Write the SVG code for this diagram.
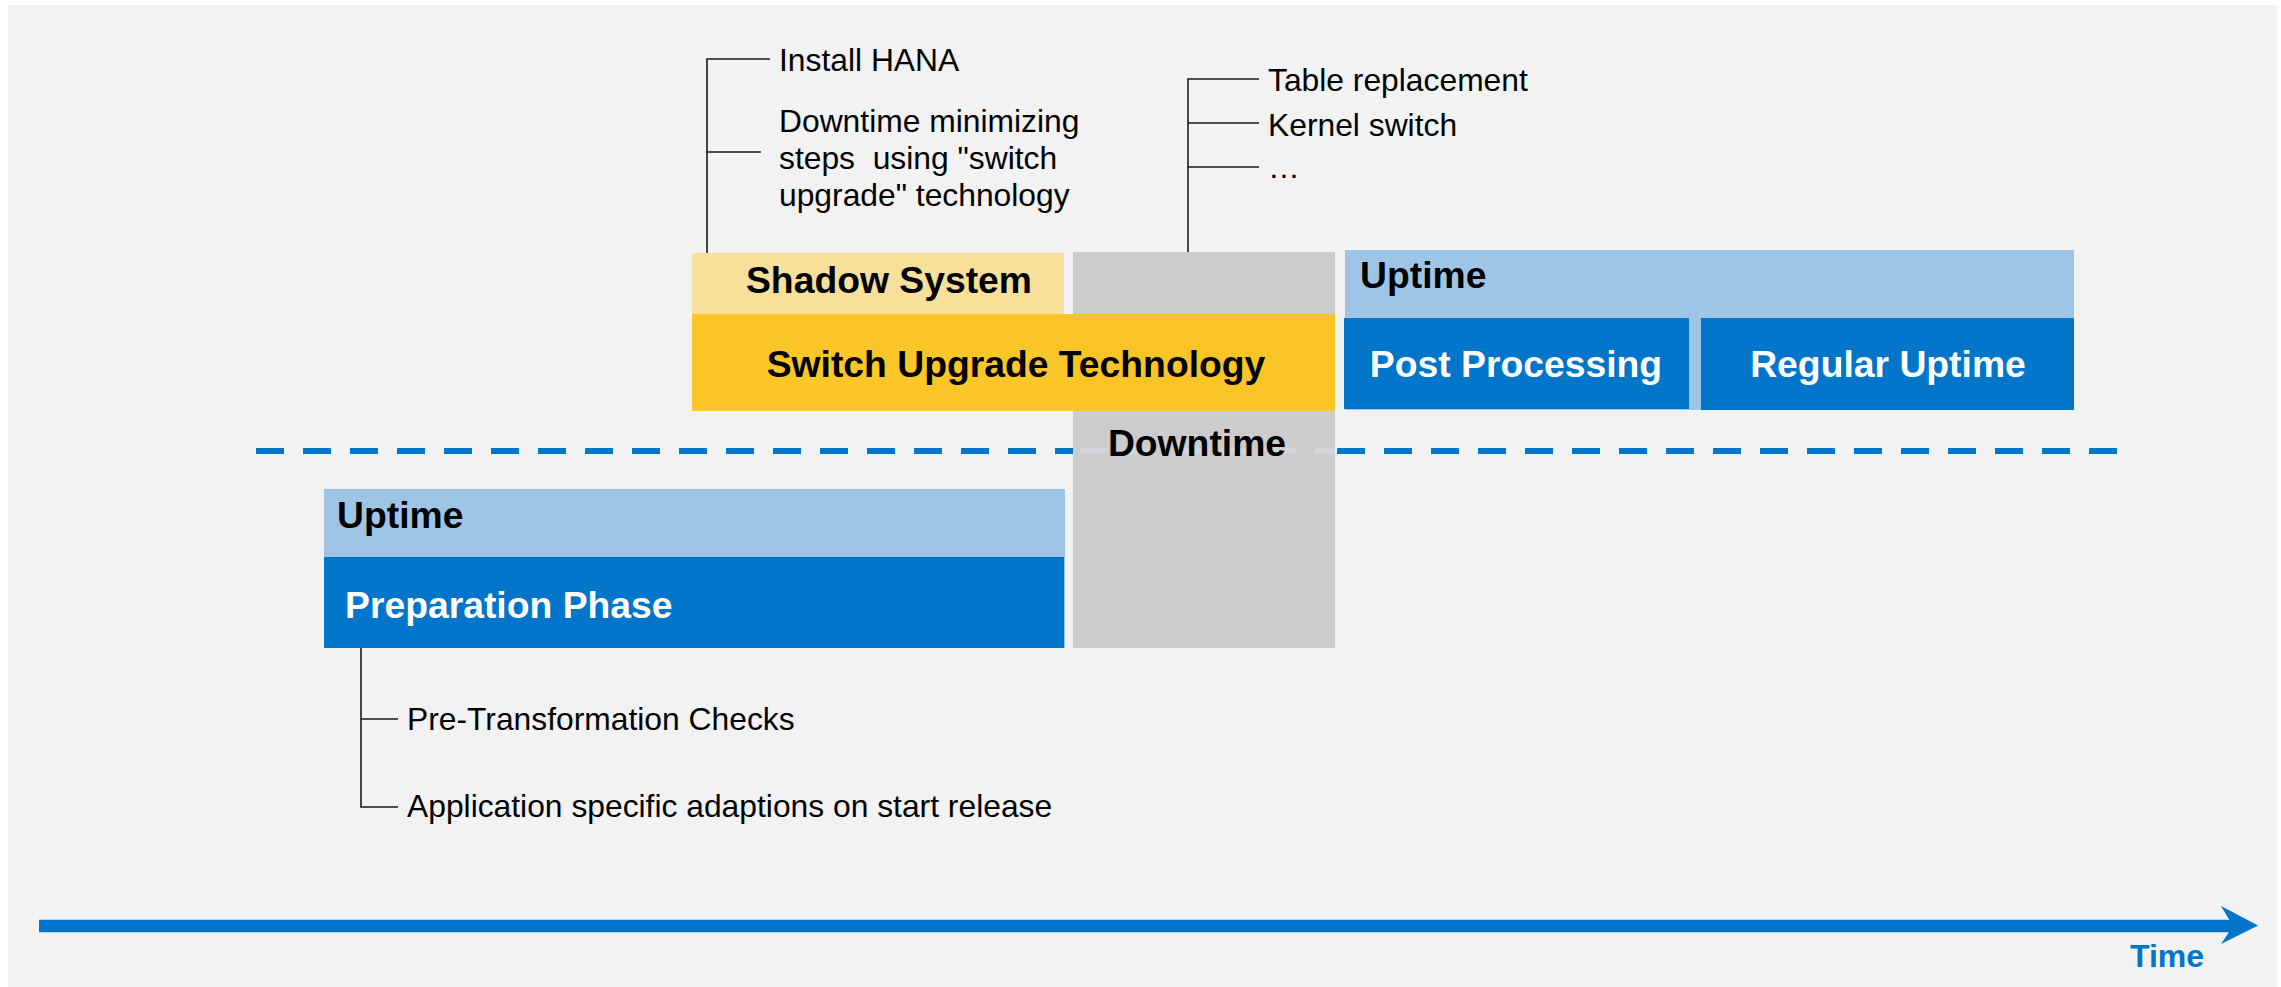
<svg xmlns="http://www.w3.org/2000/svg" width="2281" height="987" viewBox="0 0 2281 987">
  <style>
    .bold { font-family: "Liberation Sans", Arial, sans-serif; font-weight: bold; font-size: 37.3px; fill: #000000; }
    .boldw { font-family: "Liberation Sans", Arial, sans-serif; font-weight: bold; font-size: 37.3px; fill: #ffffff; }
    .reg { font-family: "Liberation Sans", Arial, sans-serif; font-size: 31.8px; fill: #000000; }
    .lb { fill: #9fc5e6; }
    .db { fill: #0075c9; }
    .br { stroke: #1a1a1a; stroke-width: 1.6; fill: none; }
  </style>
  <rect x="8" y="5" width="2269" height="982" fill="#f2f2f2"/>

  <g id="connectors">
    <line x1="256" y1="451" x2="2117" y2="451" stroke="#0075c9" stroke-width="6" stroke-dasharray="28 19"/>
    <path class="br" d="M707 253 V59 H770 M707 152 H761"/>
    <path class="br" d="M1188 253 V79 H1259 M1188 123 H1259 M1188 167 H1259"/>
    <path class="br" d="M361 648 V807 H398 M361 719 H398"/>
    <g id="time-axis">
      <line x1="39" y1="926" x2="2234" y2="926" stroke="#0075c9" stroke-width="12.5"/>
      <polygon points="2221,906 2258,925.5 2221,944 2233,926" fill="#0075c9"/>
    </g>
  </g>

  <g id="downtime">
    <rect x="1073" y="252" width="262" height="396" fill="#cccccc"/>
    <line x1="1073" y1="451" x2="1335" y2="451" stroke="#d3d6d9" stroke-width="6" stroke-dasharray="28 19" stroke-dashoffset="-7"/>
    <text class="bold" x="1197" y="456" text-anchor="middle">Downtime</text>
  </g>

  <g id="shadow-system">
    <rect x="692" y="253" width="372" height="61" fill="#f8e09b"/>
    <text class="bold" x="889" y="293" text-anchor="middle">Shadow System</text>
  </g>

  <g id="switch-upgrade">
    <rect x="692" y="314" width="643" height="97" fill="#fcc318" fill-opacity="0.93"/>
    <text class="bold" x="1016" y="377" text-anchor="middle">Switch Upgrade Technology</text>
  </g>

  <g id="uptime-right">
    <rect class="lb" x="1345" y="250" width="729" height="160"/>
    <text class="bold" x="1360" y="288">Uptime</text>
  </g>
  <g id="post-processing">
    <rect class="db" x="1344" y="318" width="345" height="91"/>
    <text class="boldw" x="1516" y="377" text-anchor="middle">Post Processing</text>
  </g>
  <g id="regular-uptime">
    <rect class="db" x="1701" y="318" width="373" height="92"/>
    <text class="boldw" x="1888" y="377" text-anchor="middle">Regular Uptime</text>
  </g>

  <g id="uptime-left">
    <rect class="lb" x="324" y="489" width="741" height="159"/>
    <text class="bold" x="337" y="528">Uptime</text>
  </g>
  <g id="preparation-phase">
    <rect class="db" x="324" y="557" width="740" height="91"/>
    <text class="boldw" x="345" y="618">Preparation Phase</text>
  </g>

  <g id="shadow-notes">
    <text class="reg" x="779" y="71">Install HANA</text>
    <text class="reg" x="779" y="132">Downtime minimizing</text>
    <text class="reg" x="779" y="169" xml:space="preserve">steps  using "switch</text>
    <text class="reg" x="779" y="206">upgrade" technology</text>
  </g>

  <g id="downtime-notes">
    <text class="reg" x="1268" y="91">Table replacement</text>
    <text class="reg" x="1268" y="136">Kernel switch</text>
    <text class="reg" x="1268" y="178">…</text>
  </g>

  <g id="preparation-notes">
    <text class="reg" x="407" y="730">Pre-Transformation Checks</text>
    <text class="reg" x="407" y="817">Application specific adaptions on start release</text>
  </g>

  <g id="time-label">
    <text x="2130" y="967" font-family="Liberation Sans, Arial, sans-serif" font-weight="bold" font-size="32px" fill="#0075c9">Time</text>
  </g>
</svg>
